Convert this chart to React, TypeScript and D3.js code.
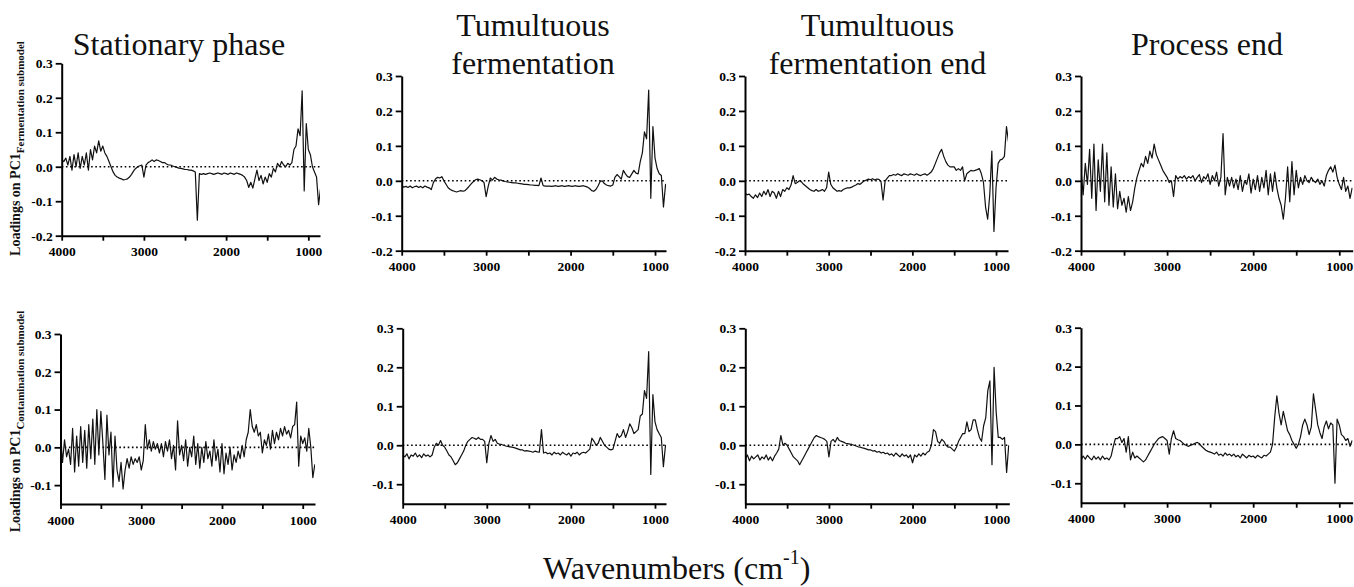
import React, { useEffect, useRef } from 'react';
import * as d3 from 'd3';

// Wavenumber grid shared by every loading spectrum (cm-1)
const wavenumbers: number[] = d3.range(4000, 849, -25);

const titles: string[][] = [
  ['Stationary phase'],
  ['Tumultuous', 'fermentation'],
  ['Tumultuous', 'fermentation end'],
  ['Process end'],
];
const submodels = ['Fermentation submodel', 'Contamination submodel'];
const topYTicks = [0.3, 0.2, 0.1, 0.0, -0.1, -0.2];
const bottomYTicks = [0.3, 0.2, 0.1, 0.0, -0.1];
const xTicks = [4000, 3500, 3000, 2500, 2000, 1500, 1000];

// PC1 loadings, fermentation submodel (one row = 10 points = 250 cm-1)
const stationaryFerm = [
  0.020, 0.015, 0.025, 0.005, 0.030, -0.010, 0.035, 0.000, 0.040, -0.005, // 4000
  0.030, 0.005, 0.040, -0.010, 0.050, 0.020, 0.060, 0.040, 0.075, 0.045, // 3750
  0.060, 0.040, 0.030, 0.015, 0.000, -0.015, -0.025, -0.030, -0.033, -0.035, // 3500
  -0.038, -0.037, -0.035, -0.030, -0.022, -0.012, -0.005, 0.000, 0.003, 0.005, // 3250
  -0.030, 0.005, 0.012, 0.015, 0.020, 0.015, 0.020, 0.018, 0.015, 0.012, // 3000
  0.012, 0.008, 0.005, 0.005, 0.002, 0.000, -0.002, -0.004, -0.005, -0.006, // 2750
  -0.008, -0.008, -0.010, -0.010, -0.012, -0.015, -0.155, -0.020, -0.022, -0.020, // 2500
  -0.022, -0.020, -0.018, -0.020, -0.022, -0.020, -0.018, -0.020, -0.022, -0.018, // 2250
  -0.020, -0.022, -0.018, -0.020, -0.022, -0.018, -0.020, -0.022, -0.025, -0.030, // 2000
  -0.040, -0.060, -0.045, -0.062, -0.035, -0.010, -0.040, -0.025, -0.050, -0.030, // 1750
  -0.045, -0.020, -0.030, -0.005, -0.015, 0.010, 0.000, 0.015, 0.005, 0.000, // 1500
  0.010, 0.005, 0.012, 0.050, 0.060, 0.110, 0.090, 0.220, -0.070, 0.125, // 1250
  0.050, 0.035, 0.000, -0.015, -0.030, -0.110, -0.060, // 1000
];

const tumultuousFerm = [
  -0.015, -0.018, -0.016, -0.019, -0.015, -0.020, -0.017, -0.015, -0.019, -0.016,
  -0.020, -0.015, -0.018, -0.020, -0.025, -0.005, 0.005, 0.010, 0.008, 0.012,
  0.000, -0.010, -0.020, -0.025, -0.028, -0.030, -0.032, -0.030, -0.028, -0.030,
  -0.028, -0.022, -0.015, -0.008, -0.002, 0.003, 0.005, 0.003, 0.000, -0.005,
  -0.045, -0.015, 0.008, 0.002, 0.010, 0.005, 0.003, 0.002, 0.000, -0.002,
  -0.003, -0.004, -0.005, -0.006, -0.006, -0.007, -0.008, -0.009, -0.010, -0.010,
  -0.011, -0.012, -0.012, -0.013, -0.013, -0.014, 0.008, -0.014, -0.015, -0.015,
  -0.015, -0.016, -0.015, -0.014, -0.016, -0.015, -0.014, -0.016, -0.015, -0.014,
  -0.015, -0.016, -0.014, -0.015, -0.016, -0.015, -0.014, -0.016, -0.018, -0.022,
  -0.028, -0.030, -0.025, -0.015, -0.002, 0.000, -0.008, -0.012, -0.014, -0.015,
  -0.012, 0.010, 0.018, 0.012, 0.005, 0.030, 0.020, 0.012, 0.010, 0.020,
  0.030, 0.022, 0.020, 0.055, 0.080, 0.140, 0.120, 0.260, -0.050, 0.155,
  0.065, 0.035, 0.020, 0.015, -0.075, -0.010, -0.010,
];

const tumultuousEndFerm = [
  -0.035, -0.040, -0.038, -0.045, -0.050, -0.040, -0.048, -0.035, -0.045, -0.030,
  -0.040, -0.025, -0.045, -0.030, -0.035, -0.050, -0.030, -0.045, -0.025, -0.030,
  -0.020, -0.025, -0.012, 0.015, -0.008, -0.005, 0.000, -0.003, -0.010, -0.015,
  -0.020, -0.025, -0.028, -0.030, -0.025, -0.030, -0.028, -0.025, -0.030, -0.020,
  0.025, -0.010, -0.020, -0.025, -0.030, -0.028, -0.030, -0.025, -0.022, -0.020,
  -0.020, -0.018, -0.015, -0.012, -0.008, -0.010, -0.005, 0.000, 0.002, 0.005,
  0.003, 0.006, 0.002, 0.005, 0.004, -0.002, -0.055, 0.000, 0.008, 0.015,
  0.015, 0.018, 0.016, 0.020, 0.017, 0.015, 0.020, 0.018, 0.016, 0.020,
  0.018, 0.016, 0.020, 0.017, 0.015, 0.018, 0.020, 0.016, 0.020, 0.025,
  0.035, 0.050, 0.065, 0.080, 0.090, 0.070, 0.055, 0.045, 0.040, 0.040,
  0.040, 0.030, 0.035, 0.030, 0.040, 0.000, 0.020, 0.025, 0.030, 0.028,
  0.030, 0.032, 0.035, 0.020, -0.005, -0.075, -0.110, -0.040, 0.085, -0.145,
  -0.020, 0.050, 0.060, 0.062, 0.070, 0.155, 0.110,
];

const processEndFerm = [
  0.030, -0.040, 0.050, -0.010, 0.090, -0.050, 0.105, -0.085, 0.060, -0.030,
  0.105, -0.060, 0.080, -0.070, 0.040, -0.075, 0.020, -0.080, -0.030, -0.070,
  -0.050, -0.090, -0.045, -0.085, -0.060, -0.020, 0.010, 0.030, 0.050, 0.040,
  0.070, 0.050, 0.085, 0.065, 0.105, 0.075, 0.060, 0.045, 0.030, 0.020,
  0.010, -0.005, 0.000, -0.045, 0.015, 0.005, 0.012, 0.008, 0.015, 0.005,
  0.012, 0.008, 0.015, 0.000, 0.010, 0.018, -0.005, 0.012, 0.005, 0.020,
  -0.010, 0.015, 0.000, 0.025, -0.015, 0.010, 0.135, -0.040, 0.010, -0.015,
  0.010, -0.020, 0.005, -0.025, 0.015, -0.030, 0.000, -0.010, 0.020, -0.035,
  0.005, -0.025, 0.015, -0.030, 0.010, -0.020, 0.030, -0.040, 0.020, -0.030,
  0.025, -0.020, -0.050, -0.070, -0.110, -0.050, 0.040, -0.060, 0.055, -0.040,
  0.030, -0.020, 0.010, -0.010, 0.015, 0.000, -0.005, 0.010, 0.000, -0.005,
  0.005, -0.010, 0.000, -0.015, 0.015, 0.030, 0.040, 0.025, 0.045, 0.010,
  -0.010, -0.025, 0.010, -0.030, -0.015, -0.050, -0.020,
];

// PC1 loadings, contamination submodel
const stationaryCont = [
  0.035, -0.040, 0.020, -0.025, -0.005, -0.045, 0.050, -0.065, 0.030, -0.050,
  0.055, -0.040, 0.045, -0.055, 0.060, -0.030, 0.075, -0.045, 0.100, -0.020,
  0.095, 0.010, -0.085, 0.085, -0.020, 0.040, -0.105, 0.030, -0.060, -0.090,
  -0.040, -0.110, -0.060, -0.030, -0.055, -0.025, -0.045, -0.030, -0.040, -0.025,
  -0.060, -0.035, 0.060, -0.005, 0.020, -0.010, 0.015, -0.005, 0.010, -0.015,
  0.010, -0.025, 0.015, -0.010, 0.020, -0.030, 0.005, -0.060, 0.070, -0.020,
  0.005, -0.035, 0.020, -0.050, 0.000, -0.025, 0.030, -0.045, 0.010, -0.055,
  0.000, -0.040, 0.015, -0.030, -0.010, -0.050, 0.020, -0.035, -0.005, -0.065,
  0.010, -0.070, -0.015, -0.045, 0.000, -0.060, -0.020, -0.040, -0.010, -0.030,
  0.005, -0.025, 0.020, 0.040, 0.100, 0.055, 0.040, 0.060, 0.030, 0.040,
  -0.015, 0.020, 0.005, 0.035, -0.005, 0.045, 0.010, 0.040, 0.020, 0.050,
  0.030, 0.055, 0.035, 0.045, 0.025, 0.055, 0.060, 0.120, -0.050, 0.030,
  0.010, 0.025, -0.010, 0.050, 0.000, -0.080, -0.045,
];

const tumultuousCont = [
  -0.025, -0.030, -0.022, -0.035, -0.025, -0.028, -0.020, -0.030, -0.025, -0.032,
  -0.022, -0.028, -0.025, -0.030, -0.025, -0.005, 0.005, 0.000, 0.012, 0.000,
  -0.005, -0.015, -0.025, -0.030, -0.040, -0.050, -0.045, -0.035, -0.025, -0.015,
  0.000, 0.010, 0.015, 0.020, 0.018, 0.015, 0.020, 0.015, 0.015, 0.010,
  -0.045, 0.005, 0.025, 0.010, 0.015, 0.005, 0.003, 0.002, 0.000, -0.002,
  -0.003, -0.004, -0.005, -0.006, -0.008, -0.010, -0.012, -0.012, -0.015, -0.014,
  -0.015, -0.016, -0.018, -0.015, -0.017, -0.018, 0.040, -0.020, -0.018, -0.022,
  -0.020, -0.025, -0.018, -0.022, -0.020, -0.025, -0.018, -0.022, -0.025, -0.020,
  -0.028, -0.020, -0.022, -0.018, -0.025, -0.020, -0.018, -0.020, -0.015, -0.010,
  0.018, 0.010, 0.000, 0.005, 0.020, 0.010, 0.000, -0.005, -0.010, -0.012,
  -0.010, 0.010, 0.030, 0.020, 0.025, 0.040, 0.020, 0.035, 0.055, 0.045,
  0.030, 0.035, 0.040, 0.075, 0.080, 0.140, 0.120, 0.240, -0.075, 0.130,
  0.060, 0.040, 0.030, 0.020, -0.055, 0.000, 0.000,
];

const tumultuousEndCont = [
  -0.035, -0.025, -0.040, -0.028, -0.035, -0.030, -0.025, -0.038, -0.030, -0.035,
  -0.025, -0.038, -0.030, -0.040, -0.028, -0.020, -0.010, 0.025, 0.000, 0.005,
  0.000, -0.010, -0.020, -0.030, -0.035, -0.040, -0.050, -0.040, -0.030, -0.020,
  -0.010, 0.000, 0.010, 0.020, 0.025, 0.022, 0.020, 0.018, 0.015, 0.010,
  -0.030, 0.010, 0.015, 0.008, 0.020, 0.012, 0.010, 0.008, 0.005, 0.004,
  0.003, 0.002, 0.000, -0.002, -0.004, -0.005, -0.007, -0.008, -0.010, -0.012,
  -0.012, -0.015, -0.014, -0.018, -0.016, -0.020, -0.018, -0.022, -0.020, -0.025,
  -0.022, -0.028, -0.020, -0.025, -0.030, -0.022, -0.028, -0.025, -0.032, -0.025,
  -0.045, -0.025, -0.030, -0.022, -0.028, -0.020, -0.025, -0.018, -0.015, 0.000,
  0.040, 0.035, 0.010, 0.005, 0.015, 0.010, 0.000, -0.005, -0.005, -0.010,
  -0.015, -0.005, 0.010, 0.020, 0.030, 0.030, 0.060, 0.035, 0.040, 0.065,
  0.065, 0.040, 0.020, 0.010, 0.050, 0.070, 0.140, 0.165, -0.050, 0.200,
  0.085, 0.020, 0.020, 0.015, 0.020, -0.070, 0.000,
];

const processEndCont = [
  -0.040, -0.030, -0.038, -0.028, -0.035, -0.040, -0.030, -0.038, -0.032, -0.040,
  -0.030, -0.038, -0.035, -0.040, -0.030, -0.005, 0.015, 0.015, 0.020, 0.005,
  0.015, -0.020, 0.020, -0.040, -0.020, -0.035, -0.030, -0.035, -0.040, -0.045,
  -0.040, -0.030, -0.020, -0.010, 0.000, 0.008, 0.015, 0.018, 0.020, 0.015,
  0.010, -0.025, 0.015, 0.035, 0.015, 0.012, 0.010, 0.005, 0.000, -0.003,
  -0.005, -0.002, 0.000, 0.003, 0.005, 0.002, -0.005, -0.010, -0.015, -0.018,
  -0.020, -0.022, -0.025, -0.020, -0.028, -0.025, -0.030, -0.022, -0.028, -0.025,
  -0.030, -0.025, -0.032, -0.028, -0.035, -0.025, -0.030, -0.035, -0.028, -0.032,
  -0.030, -0.035, -0.028, -0.032, -0.035, -0.028, -0.030, -0.025, -0.020, 0.000,
  0.070, 0.125, 0.080, 0.050, 0.085, 0.060, 0.035, 0.025, 0.010, 0.000,
  -0.010, 0.000, 0.020, 0.050, 0.065, 0.050, 0.025, 0.045, 0.130, 0.090,
  0.050, 0.030, 0.015, 0.045, 0.060, 0.040, 0.055, 0.050, -0.100, 0.065,
  0.050, 0.025, 0.020, 0.010, 0.015, -0.005, 0.010,
];

const series = [
  stationaryFerm, tumultuousFerm, tumultuousEndFerm, processEndFerm,
  stationaryCont, tumultuousCont, tumultuousEndCont, processEndCont,
];

// pixel placement of each panel
const layout = [
  { left: 61.7, right: 320, xEnd: 858, top: 63.3, bottom: 235.7, yMin: -0.2, tx: 179, ty: 55 },
  { left: 401.7, right: 666, xEnd: 870, top: 76, bottom: 250.7, yMin: -0.2, tx: 533, ty: 35.5 },
  { left: 745, right: 1008, xEnd: 857, top: 76, bottom: 250.7, yMin: -0.2, tx: 877.5, ty: 35.5 },
  { left: 1081, right: 1352.7, xEnd: 844, top: 76, bottom: 250.7, yMin: -0.2, tx: 1207, ty: 54.5 },
  { left: 60.5, right: 315, xEnd: 848, top: 334, bottom: 504, yMin: -0.15, tx: 0, ty: 0 },
  { left: 402.7, right: 666, xEnd: 869, top: 328.3, bottom: 503.7, yMin: -0.15, tx: 0, ty: 0 },
  { left: 745.3, right: 1009.3, xEnd: 843, top: 328.3, bottom: 503.7, yMin: -0.15, tx: 0, ty: 0 },
  { left: 1081, right: 1352.7, xEnd: 844, top: 327.7, bottom: 502.7, yMin: -0.15, tx: 0, ty: 0 },
];

const serif = '"Liberation Serif", "Times New Roman", serif';

const App = () => {
  const ref = useRef<SVGSVGElement>(null);

  useEffect(() => {
    if (!ref.current) return;
    const svg = d3.select(ref.current);
    svg.selectAll('*').remove();

    series.forEach((values, i) => {
      const L = layout[i];
      const x = d3.scaleLinear().domain([4000, L.xEnd]).range([L.left, L.right]);
      const y = d3.scaleLinear().domain([L.yMin, 0.3]).range([L.bottom, L.top]);
      const g = svg.append('g');

      g.append('clipPath').attr('id', `clip${i}`)
        .append('rect')
        .attr('x', L.left).attr('y', L.top - 20)
        .attr('width', L.right - L.left).attr('height', L.bottom - L.top + 20);

      // dotted zero line
      g.append('line')
        .attr('x1', L.left).attr('x2', L.right)
        .attr('y1', y(0)).attr('y2', y(0))
        .attr('stroke', '#000').attr('stroke-width', 1.6)
        .attr('stroke-dasharray', '1.6,2.6');

      const line = d3.line<number>()
        .x((_, j) => x(wavenumbers[j]))
        .y(d => y(d));

      g.append('path')
        .attr('d', line(values) || '')
        .attr('fill', 'none')
        .attr('stroke', '#111')
        .attr('stroke-width', 1.2)
        .attr('stroke-linejoin', 'round')
        .attr('clip-path', `url(#clip${i})`);

      // y axis
      const yAxis = g.append('g')
        .attr('transform', `translate(${L.left},0)`)
        .call(d3.axisLeft(y)
          .tickValues(i < 4 ? topYTicks : bottomYTicks)
          .tickSize(6).tickSizeOuter(0).tickPadding(3)
          .tickFormat(d => (+d).toFixed(1)));

      // x axis
      const xAxis = g.append('g')
        .attr('transform', `translate(0,${L.bottom})`)
        .call(d3.axisBottom(x)
          .tickValues(xTicks)
          .tickSize(5).tickSizeOuter(0).tickPadding(6)
          .tickFormat(d => (+d % 1000 === 0 ? String(d) : '')));

      [yAxis, xAxis].forEach(ax => {
        ax.attr('font-family', serif).attr('font-size', 13.5).attr('font-weight', 'bold');
        ax.select('.domain').attr('stroke', '#000').attr('stroke-width', 2);
        ax.selectAll('.tick line').attr('stroke', '#000').attr('stroke-width', 1.8);
      });

      // panel title (top row only)
      if (i < 4) {
        const t = g.append('text')
          .attr('x', L.tx).attr('y', L.ty)
          .attr('text-anchor', 'middle')
          .attr('font-family', serif).attr('font-size', 32)
          .attr('fill', '#111');
        titles[i].forEach((s, k) => {
          t.append('tspan').attr('x', L.tx).attr('dy', k === 0 ? 0 : 38.5).text(s);
        });
      }
    });

    // row y labels
    [148.5, 421.5].forEach((cy, r) => {
      const t = svg.append('text')
        .attr('transform', `translate(20,${cy}) rotate(-90)`)
        .attr('text-anchor', 'middle')
        .attr('font-family', serif).attr('font-weight', 'bold')
        .attr('font-size', 14).attr('fill', '#111');
      t.append('tspan').text('Loadings on PC1');
      t.append('tspan').attr('font-size', 11).attr('dy', 4).text(submodels[r]);
    });

    // shared x label
    const xl = svg.append('text')
      .attr('x', 676.7).attr('y', 578.5)
      .attr('text-anchor', 'middle')
      .attr('font-family', serif).attr('font-size', 32).attr('fill', '#111');
    xl.append('tspan').text('Wavenumbers (cm');
    xl.append('tspan').attr('font-size', 20).attr('dy', -15).text('-1');
    xl.append('tspan').attr('dy', 15).text(')');
  }, []);

  return (
    <svg
      ref={ref}
      width={1354}
      height={587}
      style={{ position: 'absolute', left: 0, top: 0, background: '#fff' }}
    />
  );
};

export default App;
